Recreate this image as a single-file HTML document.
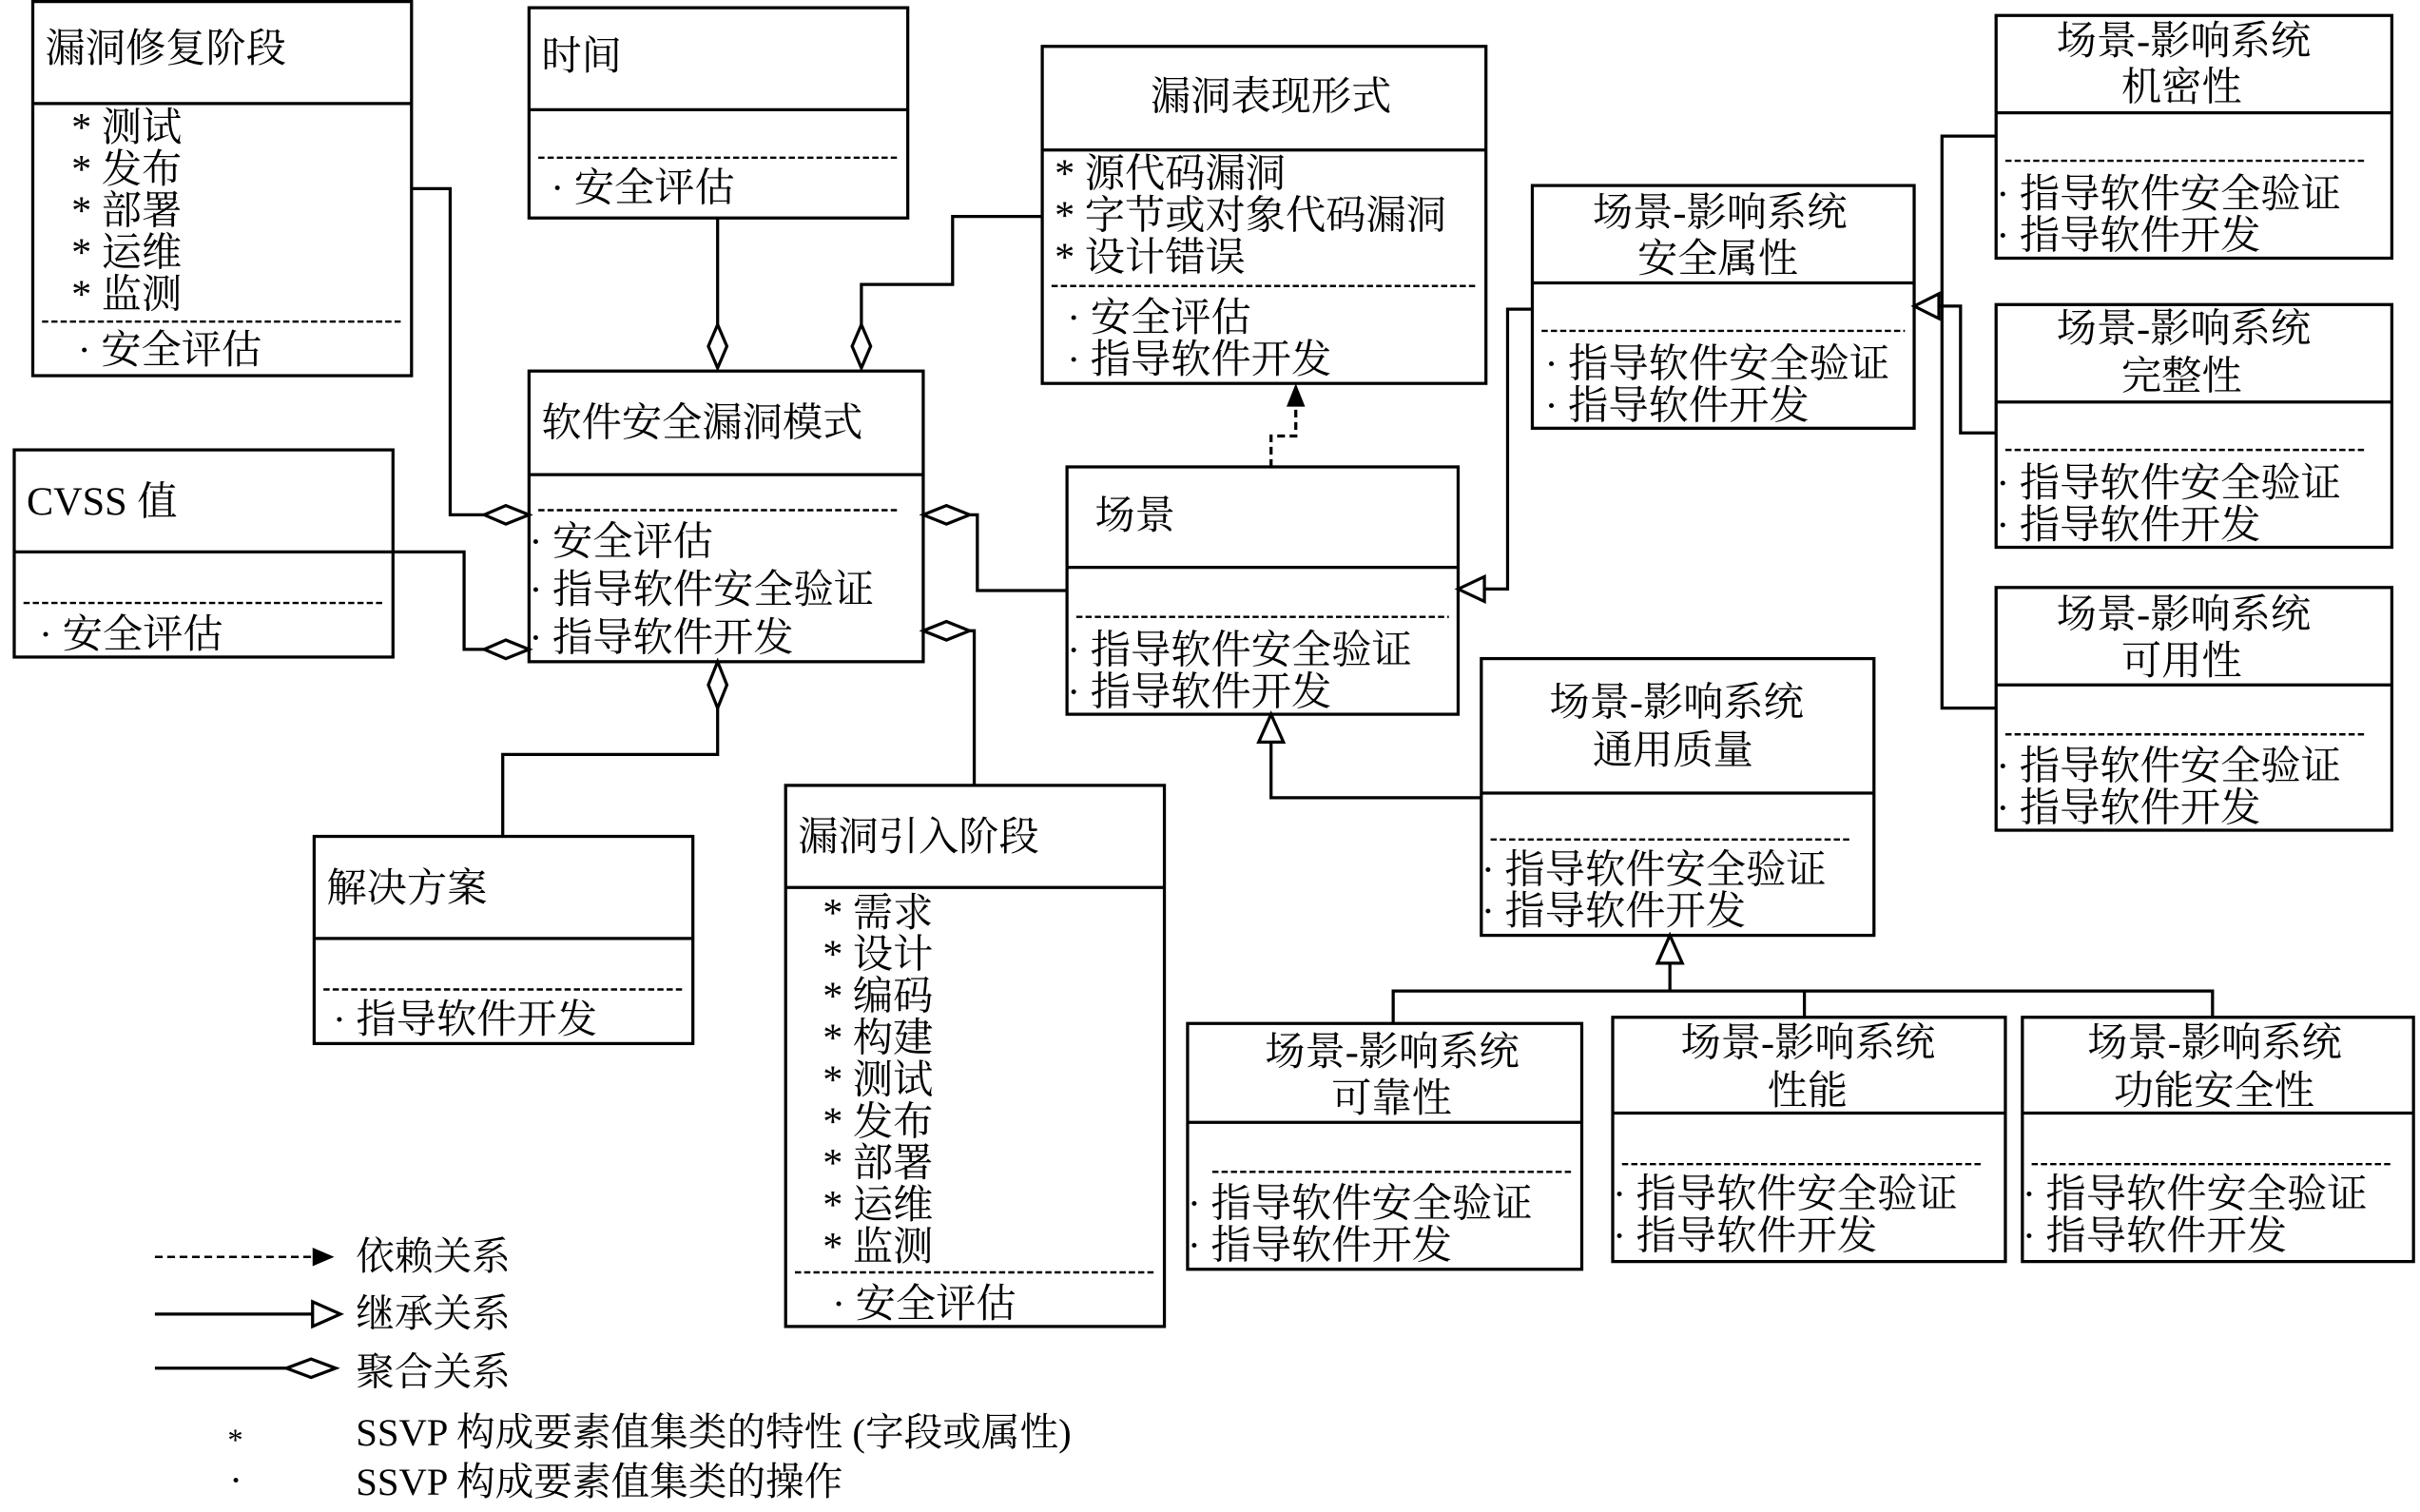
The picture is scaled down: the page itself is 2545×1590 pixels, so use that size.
<!DOCTYPE html>
<html><head><meta charset="utf-8"><style>
html,body{margin:0;padding:0;background:#fff}
svg{display:block}
text{font-family:"Liberation Serif","Noto Serif CJK SC",serif;font-size:26px;fill:#000}
.lg{font-size:25px}
</style></head><body>
<svg width="2545" height="1590" viewBox="0 0 1565 978" xmlns="http://www.w3.org/2000/svg">
<g fill="#fff" stroke="#000" stroke-width="2">
<rect x="21" y="1" width="245" height="242"/>
<rect x="342" y="5" width="245" height="136"/>
<rect x="674" y="30" width="287" height="218"/>
<rect x="991" y="120" width="247" height="157"/>
<rect x="1291" y="10" width="256" height="157"/>
<rect x="1291" y="197" width="256" height="157"/>
<rect x="1291" y="380" width="256" height="157"/>
<rect x="342" y="240" width="255" height="188"/>
<rect x="9" y="291" width="245" height="134"/>
<rect x="690" y="302" width="253" height="160"/>
<rect x="958" y="426" width="254" height="179"/>
<rect x="203" y="541" width="245" height="134"/>
<rect x="508" y="508" width="245" height="350"/>
<rect x="768" y="662" width="255" height="159"/>
<rect x="1043" y="658" width="254" height="158"/>
<rect x="1308" y="658" width="253" height="158"/>
</g>
<g stroke="#000" stroke-width="2">
<line x1="21" y1="67" x2="266" y2="67"/>
<line x1="342" y1="71" x2="587" y2="71"/>
<line x1="674" y1="97" x2="961" y2="97"/>
<line x1="991" y1="183" x2="1238" y2="183"/>
<line x1="1291" y1="73" x2="1547" y2="73"/>
<line x1="1291" y1="260" x2="1547" y2="260"/>
<line x1="1291" y1="443" x2="1547" y2="443"/>
<line x1="342" y1="307" x2="597" y2="307"/>
<line x1="9" y1="357" x2="254" y2="357"/>
<line x1="690" y1="367" x2="943" y2="367"/>
<line x1="958" y1="513" x2="1212" y2="513"/>
<line x1="203" y1="607" x2="448" y2="607"/>
<line x1="508" y1="574" x2="753" y2="574"/>
<line x1="768" y1="726" x2="1023" y2="726"/>
<line x1="1043" y1="720" x2="1297" y2="720"/>
<line x1="1308" y1="720" x2="1561" y2="720"/>
</g>
<g stroke="#000" stroke-width="1.5" stroke-dasharray="4,2">
<line x1="27" y1="208" x2="260" y2="208"/>
<line x1="348" y1="102" x2="581" y2="102"/>
<line x1="680" y1="185" x2="955" y2="185"/>
<line x1="997" y1="214" x2="1232" y2="214"/>
<line x1="1297" y1="104" x2="1531" y2="104"/>
<line x1="1297" y1="291" x2="1531" y2="291"/>
<line x1="1297" y1="475" x2="1531" y2="475"/>
<line x1="348" y1="330" x2="582" y2="330"/>
<line x1="15" y1="390" x2="248" y2="390"/>
<line x1="696" y1="399" x2="937" y2="399"/>
<line x1="964" y1="543" x2="1198" y2="543"/>
<line x1="209" y1="640" x2="442" y2="640"/>
<line x1="514" y1="823" x2="747" y2="823"/>
<line x1="784" y1="758" x2="1017" y2="758"/>
<line x1="1049" y1="753" x2="1282" y2="753"/>
<line x1="1314" y1="753" x2="1547" y2="753"/>
</g>
<g fill="none" stroke="#000" stroke-width="2">
<polyline points="266,122 291,122 291,333 313,333"/>
<polyline points="254,357 300,357 300,420 313,420"/>
<polyline points="464,141 464,210"/>
<polyline points="674,140 616,140 616,184 557,184 557,210"/>
<polyline points="627,333 632,333 632,382 690,382"/>
<polyline points="627,408 630,408 630,508"/>
<polyline points="464,458 464,488 325,488 325,541"/>
<polyline points="960,381 975,381 975,200 991,200"/>
<polyline points="958,516 822,516 822,480"/>
<polyline points="1254,198 1256,198 1256,88 1291,88"/>
<polyline points="1256,198 1256,458 1291,458"/>
<polyline points="1256,198 1268,198 1268,280 1291,280"/>
<polyline points="1080,623 1080,641"/>
<polyline points="901,662 901,641 1431,641 1431,658"/>
<polyline points="1167,641 1167,658"/>
<polyline points="822,302 822,282 838,282 838,262" stroke-dasharray="5,3"/>
</g>
<g fill="#fff" stroke="#000" stroke-width="2">
<polygon points="342,333 327,327 313,333 327,339"/>
<polygon points="342,420 327,414 313,420 327,426"/>
<polygon points="464,238 458,224 464,210 470,224"/>
<polygon points="557,238 551,224 557,210 563,224"/>
<polygon points="597,333 612,327 627,333 612,339"/>
<polygon points="597,408 612,402 627,408 612,414"/>
<polygon points="464,428 458,443 464,458 470,443"/>
<polygon points="943,381 960,373 960,389"/>
<polygon points="822,462 814,480 830,480"/>
<polygon points="1238,198 1254,190 1254,206"/>
<polygon points="1080,605 1072,623 1088,623"/>
</g>
<polygon points="838,248 832,263 844,263" fill="#000"/>
<line x1="100" y1="813" x2="202" y2="813" stroke="#000" stroke-width="1.5" stroke-dasharray="5,3"/>
<polygon points="216,813 202,807 202,819" fill="#000"/>
<line x1="100" y1="850" x2="202" y2="850" stroke="#000" stroke-width="2"/>
<polygon points="220,850 202,842 202,858" fill="#fff" stroke="#000" stroke-width="2"/>
<line x1="100" y1="885" x2="185" y2="885" stroke="#000" stroke-width="2"/>
<polygon points="185,885 201,879 217,885 201,891" fill="#fff" stroke="#000" stroke-width="2"/>
<g>
<text class="lg" x="230" y="821">依赖关系</text>
<text class="lg" x="230" y="858">继承关系</text>
<text class="lg" x="230" y="896">聚合关系</text>
<text x="147" y="938" style="font-size:20px">*</text>
<text class="lg" x="230" y="935">SSVP 构成要素值集类的特性 (字段或属性)</text>
<text x="148" y="966">·</text>
<text class="lg" x="230" y="967">SSVP 构成要素值集类的操作</text>

<text x="29" y="40">漏洞修复阶段</text>
<text x="46" y="91">* 测试</text>
<text x="46" y="118">* 发布</text>
<text x="46" y="145">* 部署</text>
<text x="46" y="172">* 运维</text>
<text x="46" y="199">* 监测</text>
<text x="50" y="235">· 安全评估</text>

<text x="350" y="45">时间</text>
<text x="356" y="130">· 安全评估</text>

<text x="744" y="71">漏洞表现形式</text>
<text x="682" y="121">* 源代码漏洞</text>
<text x="682" y="148">* 字节或对象代码漏洞</text>
<text x="682" y="175">* 设计错误</text>
<text x="690" y="214">· 安全评估</text>
<text x="690" y="241">· 指导软件开发</text>

<text x="1030" y="146">场景-影响系统</text>
<text x="1059" y="176">安全属性</text>
<text x="999" y="244">· 指导软件安全验证</text>
<text x="999" y="271">· 指导软件开发</text>

<text x="1330" y="35">场景-影响系统</text>
<text x="1372" y="65">机密性</text>
<text x="1291" y="134">· 指导软件安全验证</text>
<text x="1291" y="161">· 指导软件开发</text>

<text x="1330" y="221">场景-影响系统</text>
<text x="1372" y="252">完整性</text>
<text x="1291" y="321">· 指导软件安全验证</text>
<text x="1291" y="348">· 指导软件开发</text>

<text x="1330" y="406">场景-影响系统</text>
<text x="1372" y="436">可用性</text>
<text x="1291" y="504">· 指导软件安全验证</text>
<text x="1291" y="531">· 指导软件开发</text>

<text x="350" y="282">软件安全漏洞模式</text>
<text x="342" y="359">· 安全评估</text>
<text x="342" y="390">· 指导软件安全验证</text>
<text x="342" y="421">· 指导软件开发</text>

<text x="17" y="333">CVSS 值</text>
<text x="25" y="419">· 安全评估</text>

<text x="708" y="342">场景</text>
<text x="690" y="429">· 指导软件安全验证</text>
<text x="690" y="456">· 指导软件开发</text>

<text x="1002" y="463">场景-影响系统</text>
<text x="1030" y="494">通用质量</text>
<text x="958" y="571">· 指导软件安全验证</text>
<text x="958" y="598">· 指导软件开发</text>

<text x="211" y="583">解决方案</text>
<text x="215" y="668">· 指导软件开发</text>

<text x="516" y="550">漏洞引入阶段</text>
<text x="532" y="599">* 需求</text>
<text x="532" y="626">* 设计</text>
<text x="532" y="653">* 编码</text>
<text x="532" y="680">* 构建</text>
<text x="532" y="707">* 测试</text>
<text x="532" y="734">* 发布</text>
<text x="532" y="761">* 部署</text>
<text x="532" y="788">* 运维</text>
<text x="532" y="815">* 监测</text>
<text x="538" y="852">· 安全评估</text>

<text x="818" y="689">场景-影响系统</text>
<text x="861" y="719">可靠性</text>
<text x="768" y="787">· 指导软件安全验证</text>
<text x="768" y="814">· 指导软件开发</text>

<text x="1087" y="683">场景-影响系统</text>
<text x="1143" y="714">性能</text>
<text x="1043" y="781">· 指导软件安全验证</text>
<text x="1043" y="808">· 指导软件开发</text>

<text x="1350" y="683">场景-影响系统</text>
<text x="1367" y="714">功能安全性</text>
<text x="1308" y="781">· 指导软件安全验证</text>
<text x="1308" y="808">· 指导软件开发</text>
</g>
</svg>
</body></html>
